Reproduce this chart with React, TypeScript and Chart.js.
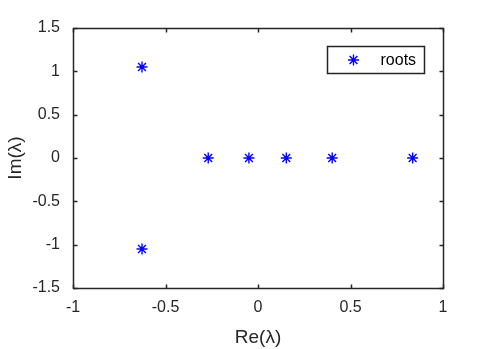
import React, { useEffect, useRef } from "react";
import { Chart, registerables } from "chart.js";

Chart.register(...registerables);

const seriesLabel = "roots";
const reParts = [-0.627, -0.627, -0.269, -0.049, 0.153, 0.401, 0.836];
const imParts = [1.05, -1.05, 0, 0, 0, 0, 0];
const xTickValues = [-1, -0.5, 0, 0.5, 1];
const yTickValues = [-1.5, -1, -0.5, 0, 0.5, 1, 1.5];
const xTitle = "Re(λ)";
const yTitle = "Im(λ)";

const FONT = "'Liberation Sans', Arial, Helvetica, sans-serif";
const AXIS_COLOR = "#262626";
const BLUE = "#0000ff";

function drawStar(ctx: CanvasRenderingContext2D, x: number, y: number, r: number) {
  const d = r * Math.SQRT1_2;
  ctx.beginPath();
  ctx.moveTo(x - r, y);
  ctx.lineTo(x + r, y);
  ctx.moveTo(x, y - r);
  ctx.lineTo(x, y + r);
  ctx.moveTo(x - d, y - d);
  ctx.lineTo(x + d, y + d);
  ctx.moveTo(x - d, y + d);
  ctx.lineTo(x + d, y - d);
  ctx.stroke();
}

const boxPlugin = {
  id: "matlabBox",
  afterDatasetsDraw(chart: any) {
    const { ctx, chartArea: a, scales } = chart;
    const xs = scales.x;
    const ys = scales.y;
    ctx.save();
    ctx.strokeStyle = AXIS_COLOR;
    ctx.lineWidth = 1.5;
    const L = Math.round(a.left) + 0.5;
    const R = Math.round(a.right) + 0.5;
    const T = Math.round(a.top) + 0.5;
    const B = Math.round(a.bottom) + 0.5;
    ctx.strokeRect(L, T, R - L, B - T);
    const tl = 4;
    ctx.beginPath();
    xTickValues.forEach((v) => {
      const px = Math.round(xs.getPixelForValue(v)) + 0.5;
      ctx.moveTo(px, B);
      ctx.lineTo(px, B - tl);
      ctx.moveTo(px, T);
      ctx.lineTo(px, T + tl);
    });
    yTickValues.forEach((v) => {
      const py = Math.round(ys.getPixelForValue(v)) + 0.5;
      ctx.moveTo(L, py);
      ctx.lineTo(L + tl, py);
      ctx.moveTo(R, py);
      ctx.lineTo(R - tl, py);
    });
    ctx.stroke();

    // legend
    const bx = Math.round(a.right - 116) + 0.5;
    const by = Math.round(a.top + 18) + 0.5;
    const bw = 97;
    const bh = 27;
    ctx.fillStyle = "#ffffff";
    ctx.fillRect(bx, by, bw, bh);
    ctx.strokeStyle = AXIS_COLOR;
    ctx.lineWidth = 1.5;
    ctx.strokeRect(bx, by, bw, bh);
    ctx.strokeStyle = BLUE;
    ctx.lineWidth = 1.4;
    drawStar(ctx, bx + 26, by + 13.5, 5.5);
    ctx.fillStyle = "#000000";
    ctx.font = `16px ${FONT}`;
    ctx.textAlign = "left";
    ctx.textBaseline = "middle";
    ctx.fillText(chart.data.datasets[0].label, bx + 53, by + 14);
    ctx.restore();
  },
};

export default function App() {
  const ref = useRef<HTMLCanvasElement | null>(null);
  useEffect(() => {
    if (!ref.current) return;
    const points = reParts.map((x, i) => ({ x, y: imParts[i] }));
    const chart = new Chart(ref.current, {
      type: "scatter",
      data: {
        datasets: [
          {
            label: seriesLabel,
            data: points,
            pointStyle: "star",
            radius: 5.5,
            borderColor: BLUE,
            backgroundColor: BLUE,
            borderWidth: 1.4,
          },
        ],
      },
      options: {
        responsive: false,
        animation: false,
        devicePixelRatio: 1,
        layout: { padding: { top: 28, right: 48, left: 0, bottom: 0 } },
        plugins: {
          legend: { display: false },
          tooltip: { enabled: false },
        },
        scales: {
          x: {
            type: "linear",
            min: -1,
            max: 1,
            afterFit: (s: any) => {
              s.height = 61;
            },
            afterBuildTicks: (s: any) => {
              s.ticks = xTickValues.map((v) => ({ value: v }));
            },
            grid: { display: false, drawTicks: false },
            border: { display: false },
            ticks: {
              padding: 10,
              color: AXIS_COLOR,
              font: { family: FONT, size: 16 },
              maxRotation: 0,
              autoSkip: false,
              callback: (v: any) => String(v),
            },
            title: {
              display: true,
              text: xTitle,
              color: AXIS_COLOR,
              font: { family: FONT, size: 19 },
              padding: { top: 0, bottom: 0 },
            },
          },
          y: {
            type: "linear",
            min: -1.5,
            max: 1.5,
            afterFit: (s: any) => {
              s.width = 73;
            },
            afterBuildTicks: (s: any) => {
              s.ticks = yTickValues.map((v) => ({ value: v }));
            },
            grid: { display: false, drawTicks: false },
            border: { display: false },
            ticks: {
              padding: 13,
              color: AXIS_COLOR,
              font: { family: FONT, size: 16 },
              autoSkip: false,
              callback: (v: any) => String(v),
            },
            title: {
              display: true,
              text: yTitle,
              color: AXIS_COLOR,
              font: { family: FONT, size: 19 },
              padding: { top: 4, bottom: 0 },
            },
          },
        },
      },
      plugins: [boxPlugin],
    });
    return () => chart.destroy();
  }, []);
  return (
    <div style={{ position: "absolute", left: 0, top: 0, width: 491, height: 349, background: "#fff" }}>
      <canvas ref={ref} width={491} height={349} />
    </div>
  );
}
